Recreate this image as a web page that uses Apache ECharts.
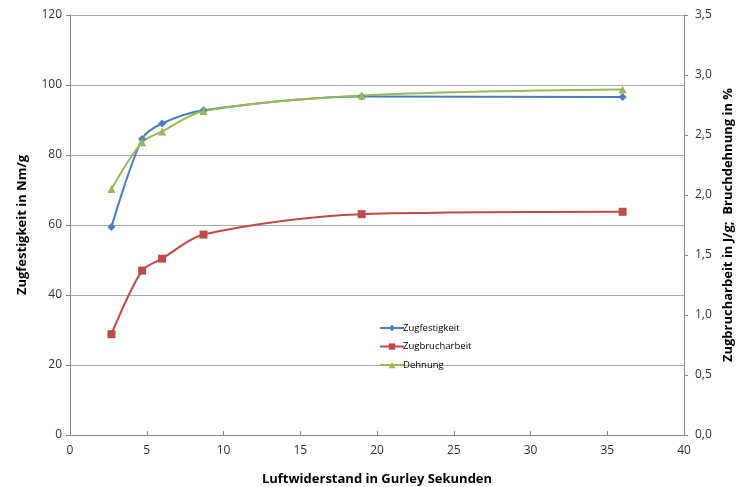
<!DOCTYPE html>
<html><head><meta charset="utf-8">
<script src="https://cdn.jsdelivr.net/npm/echarts@6/dist/echarts.min.js"></script>
<style>html,body{margin:0;padding:0;background:#fff}#c{width:737px;height:487px}</style>
</head><body><div id="c"></div>
<script>
const gurley = [2.7, 4.7, 6.0, 8.7, 19.0, 36.0];
const zugfestigkeit = [59.4, 84.6, 89.0, 92.8, 96.7, 96.6];
const zugbrucharbeit = [0.84, 1.37, 1.47, 1.67, 1.84, 1.86];
const dehnung = [2.05, 2.44, 2.53, 2.70, 2.83, 2.88];
const xTicks = [0, 5, 10, 15, 20, 25, 30, 35, 40];
const pairs = (xs, ys) => xs.map((x, i) => [x, ys[i]]);
const font = 'Open Sans, Liberation Sans, sans-serif';
const chart = echarts.init(document.getElementById('c'));
chart.setOption({
  animation: false,
  grid: {left: 70, right: 53, top: 15, bottom: 52, outerBoundsMode: 'none', containLabel: false},
  legend: {
    orient: 'vertical', left: 374, top: 318, itemGap: 8.5, itemWidth: 24, itemHeight: 8,
    textStyle: {fontSize: 9.5, fontFamily: font, color: '#000', padding: [0, 0, 0, -6]},
    data: ['Zugfestigkeit', 'Zugbrucharbeit', 'Dehnung']
  },
  xAxis: {
    type: 'value', min: 0, max: 40, interval: 5,
    name: 'Luftwiderstand in Gurley Sekunden', nameLocation: 'middle', nameGap: 38,
    nameTextStyle: {fontSize: 13, fontWeight: 'bold', fontFamily: font, color: '#000'},
    axisLine: {lineStyle: {color: '#888'}},
    axisTick: {lineStyle: {color: '#888'}, length: 4, inside: true},
    axisLabel: {fontSize: 12, fontFamily: font, color: '#333', margin: 10,
      formatter: v => xTicks.includes(v) ? String(v) : ''},
    splitLine: {show: false}
  },
  yAxis: [{
    type: 'value', min: 0, max: 120, interval: 20,
    name: 'Zugfestigkeit in Nm/g', nameLocation: 'middle', nameGap: 41, nameRotate: 90, nameMoveOverlap: false,
    nameTextStyle: {fontSize: 13, fontWeight: 'bold', fontFamily: font, color: '#000'},
    axisLine: {show: true, lineStyle: {color: '#888'}},
    axisTick: {show: true, length: 4, lineStyle: {color: '#888'}},
    axisLabel: {fontSize: 12, fontFamily: font, color: '#333', margin: 8},
    splitLine: {lineStyle: {color: '#aaa', width: 1}}
  }, {
    type: 'value', min: 0, max: 3.5, interval: 0.5, position: 'right',
    name: 'Zugbrucharbeit in J/g;  Bruchdehnung in %', nameLocation: 'middle', nameGap: 38, nameRotate: 90, nameMoveOverlap: false,
    nameTextStyle: {fontSize: 13, fontWeight: 'bold', fontFamily: font, color: '#000'},
    axisLine: {show: true, lineStyle: {color: '#888'}},
    axisTick: {show: true, length: 4, lineStyle: {color: '#888'}},
    axisLabel: {fontSize: 12, fontFamily: font, color: '#333', margin: 11,
      formatter: v => v.toFixed(1).replace('.', ',')},
    splitLine: {show: false}
  }],
  series: [{
    name: 'Zugfestigkeit', type: 'line', smooth: 0.3, yAxisIndex: 0,
    data: pairs(gurley, zugfestigkeit),
    symbol: 'diamond', symbolSize: 8,
    lineStyle: {color: '#4A7EBB', width: 2}, itemStyle: {color: '#4A7EBB'}
  }, {
    name: 'Zugbrucharbeit', type: 'line', smooth: 0.3, yAxisIndex: 1,
    data: pairs(gurley, zugbrucharbeit),
    symbol: 'rect', symbolSize: 8,
    lineStyle: {color: '#BE4B48', width: 2}, itemStyle: {color: '#BE4B48'}
  }, {
    name: 'Dehnung', type: 'line', smooth: 0.3, yAxisIndex: 1,
    data: pairs(gurley, dehnung),
    symbol: 'triangle', symbolSize: 8,
    lineStyle: {color: '#98B954', width: 2}, itemStyle: {color: '#98B954'}
  }]
});
</script></body></html>
